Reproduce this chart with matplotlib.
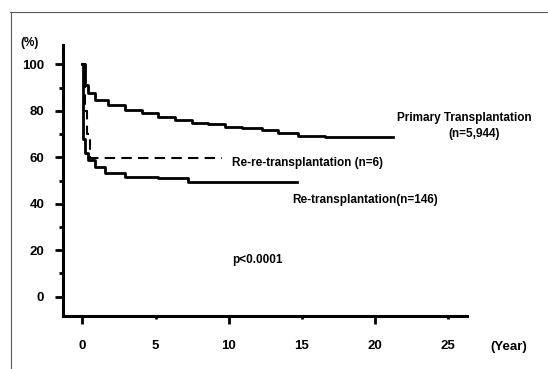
import matplotlib
matplotlib.use('Agg')
import matplotlib.pyplot as plt
from matplotlib.lines import Line2D
from matplotlib.ticker import FixedLocator, FixedFormatter

plt.rcParams['font.family'] = ['Liberation Sans', 'DejaVu Sans']
plt.rcParams['font.weight'] = 'bold'

# === DATA ===
primary_years = [0, 0.18, 0.41, 0.87, 1.78, 2.92, 4.06, 5.19, 6.33, 7.47, 8.61,
                 9.75, 10.89, 12.25, 13.39, 14.75, 16.6, 21.2]
primary_surv = [100, 91, 87.5, 84.6, 82.5, 80.3, 78.9, 77.5, 76.0, 74.9, 74.2,
                73.2, 72.4, 71.7, 70.6, 69.1, 68.8, 68.8]

re_years = [0, 0.05, 0.15, 0.41, 0.87, 1.55, 2.92, 5.19, 7.24, 14.64]
re_surv = [100, 68, 61.7, 58.8, 55.9, 53.1, 51.6, 50.9, 49.5, 49.5]

rere_years = [0, 0.2, 0.35, 0.5, 9.52]
rere_surv = [100, 80, 70, 59.6, 59.6]

x_major = [0, 10, 20]
x_minor = [5, 15, 25]
y_major = [0, 20, 40, 60, 80, 100]
y_minor = [10, 30, 50, 70, 90]

W, H = 548, 369
fig = plt.figure(figsize=(W / 100, H / 100), dpi=100)
ax = fig.add_axes([63 / W, 1 - 316 / H, (466.7 - 63) / W, (316 - 45) / H])

ax.step(primary_years, primary_surv, where='post', color='black', lw=2.0)
ax.step(re_years, re_surv, where='post', color='black', lw=2.0)
ax.step(rere_years, rere_surv, where='post', color='black', lw=1.5, linestyle=(0, (5, 3)))

ax.set_xlim(-1.32, 26.26)
ax.set_ylim(-8.3, 108.3)

for s in ['top', 'right']:
    ax.spines[s].set_visible(False)
for s in ['left', 'bottom']:
    ax.spines[s].set_linewidth(2.2)

ax.xaxis.set_major_locator(FixedLocator(x_major))
ax.xaxis.set_minor_locator(FixedLocator(x_minor))
ax.xaxis.set_major_formatter(FixedFormatter([str(v) for v in x_major]))
ax.xaxis.set_minor_formatter(FixedFormatter([str(v) for v in x_minor]))
ax.yaxis.set_major_locator(FixedLocator(y_major))
ax.yaxis.set_minor_locator(FixedLocator(y_minor))

ax.tick_params(axis='x', which='major', length=5.5, width=2, pad=12, labelsize=9.5)
ax.tick_params(axis='x', which='minor', length=2.5, width=2, pad=15, labelsize=9.5)
ax.tick_params(axis='y', which='major', length=5.5, width=2, pad=8, labelsize=9.5)
ax.tick_params(axis='y', which='minor', length=3, width=2)

tk = dict(fontsize=8.5, fontweight='bold')
ax.text(26.07, 76.9, 'Primary Transplantation', ha='center', va='center', **tk)
ax.text(26.76, 70.0, '(n=5,944)', ha='center', va='center', **tk)
ax.text(10.24, 57.5, 'Re-re-transplantation (n=6)', ha='left', va='center', **tk)
ax.text(14.32, 41.6, 'Re-transplantation(n=146)', ha='left', va='center', **tk)
ax.text(10.24, 15.8, 'p<0.0001', ha='left', va='center', **tk)

fig.text(30 / W, 1 - 43 / H, '(%)', ha='center', va='center', fontsize=8.5)
fig.text(509 / W, 1 - 347 / H, '(Year)', ha='center', va='center', fontsize=9.5)

# thin frame of the scanned figure
fig.add_artist(Line2D([10 / W, 1], [1 - 12 / H, 1 - 12 / H], transform=fig.transFigure, color='0.35', lw=0.8))
fig.add_artist(Line2D([11 / W, 11 / W], [0, 1 - 12 / H], transform=fig.transFigure, color='0.35', lw=0.8))

fig.savefig('out.png', dpi=100)
